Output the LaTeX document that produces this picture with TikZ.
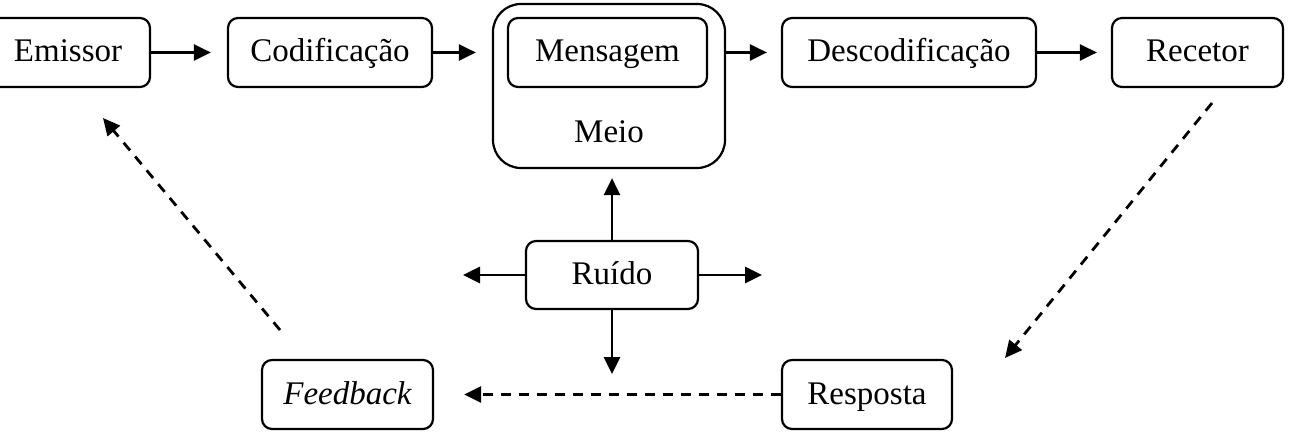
\documentclass[tikz,border=0pt]{standalone}
\usepackage{fontspec}
\setmainfont{Liberation Serif}
\usetikzlibrary{arrows.meta}
\begin{document}
\begin{tikzpicture}[x=1pt,y=-1pt,
  lbl/.style={font=\fontsize{33}{38}\selectfont, text height=24pt, text depth=5pt},
  box/.style={lbl, draw, line width=2.2pt, rounded corners=10pt, inner sep=0pt, minimum height=69pt},
  conn/.style={line width=2.8pt, -{Triangle[length=17pt,width=16pt]}},
  dconn/.style={conn, dash pattern=on 10pt off 8pt}]
\useasboundingbox (0,0) rectangle (1290,438);
\node[box, minimum width=164pt] (em) at (68,52.5) {Emissor};
\node[box, minimum width=204pt] (cod) at (330,52.5) {Codificação};
\node[box, minimum width=232pt, minimum height=164pt, rounded corners=28pt] (meio) at (609,86) {};
\node[box, minimum width=199pt] (msg) at (607.5,52.5) {Mensagem};
\node[lbl, inner sep=0pt] (meiol) at (609,133.5) {Meio};
\node[box, minimum width=254pt] (desc) at (909,52.5) {Descodificação};
\node[box, minimum width=171pt] (rec) at (1197.5,52.5) {Recetor};
\node[box, minimum width=172pt, minimum height=68pt] (ruido) at (612,275) {Ruído};
\node[box, minimum width=171pt] (fb) at (347.5,394.5) {\itshape Feedback};
\node[box, minimum width=170pt] (resp) at (867,394.5) {Resposta};
\coordinate (rl) at (463,275);
\coordinate (rr) at (762,275);
\coordinate (rd) at (612,374);
\coordinate (d1s) at (1212,103);
\coordinate (d1e) at (1005,358);
\coordinate (d2s) at (280,330);
\coordinate (d2e) at (103,118);
\draw[conn, shorten >=16pt] (em.east) -- (cod.west);
\draw[conn, shorten >=16pt] (cod.east) -- (meio.west |- cod.east);
\draw[conn, shorten >=14pt] (meio.east |- msg.east) -- (desc.west);
\draw[conn, shorten >=14pt] (desc.east) -- (rec.west);
\draw[conn, shorten >=9pt] (ruido.north) -- (ruido.north |- meio.south);
\draw[conn] (ruido.west) -- (rl);
\draw[conn] (ruido.east) -- (rr);
\draw[conn] (ruido.south) -- (rd);
\draw[dconn, shorten >=30pt] (resp.west) -- (fb.east);
\draw[dconn] (d1s) -- (d1e);
\draw[dconn] (d2s) -- (d2e);
\end{tikzpicture}
\end{document}
